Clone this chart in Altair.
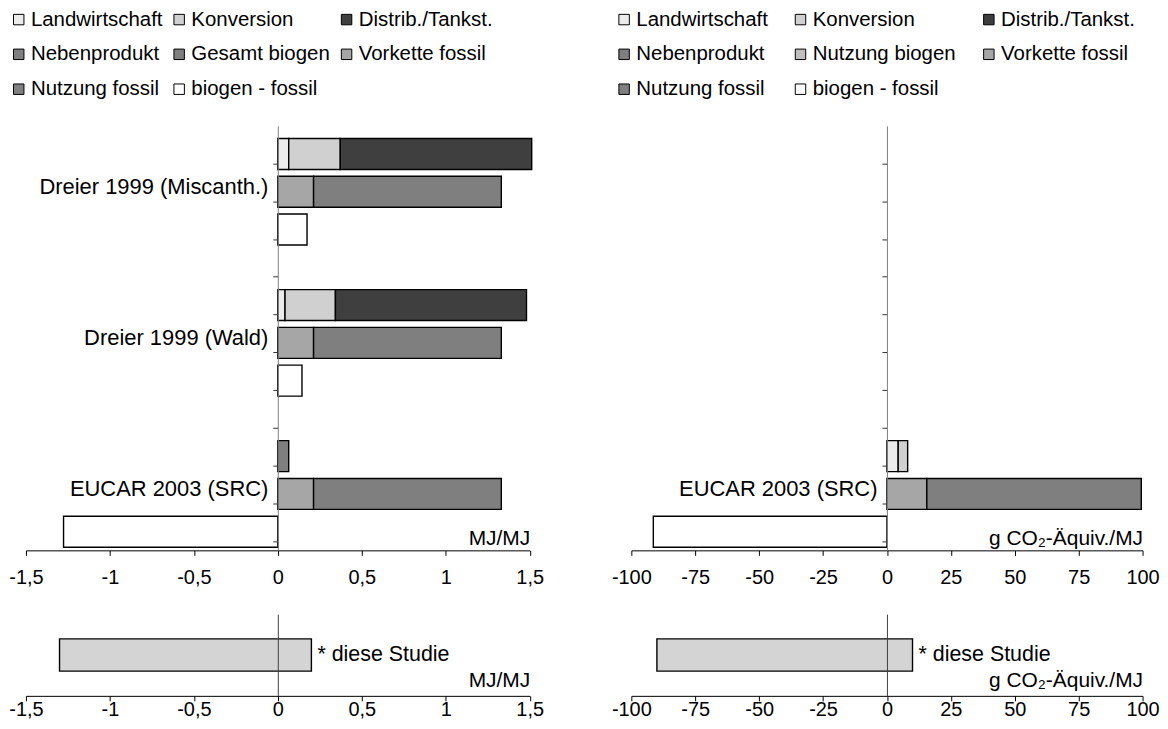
import altair as alt
import pandas as pd

# ---------------- data ----------------
studies = ["Dreier 1999 (Miscanth.)", "Dreier 1999 (Wald)", "EUCAR 2003 (SRC)"]

components_mj = ["Landwirtschaft", "Konversion", "Distrib./Tankst.", "Nebenprodukt",
                 "Gesamt biogen", "Vorkette fossil", "Nutzung fossil", "biogen - fossil"]
colors_mj = ["#ececec", "#d0d0d0", "#3f3f3f", "#7f7f7f",
             "#7f7f7f", "#a6a6a6", "#7f7f7f", "#ffffff"]

components_g = ["Landwirtschaft", "Konversion", "Distrib./Tankst.", "Nebenprodukt",
                "Nutzung biogen", "Vorkette fossil", "Nutzung fossil", "biogen - fossil"]
colors_g = ["#ececec", "#d0d0d0", "#3f3f3f", "#7f7f7f",
            "#bfbfbf", "#a6a6a6", "#7f7f7f", "#ffffff"]

# which bar (row slot) of a study each component belongs to
slot_of = {"Landwirtschaft": "A", "Konversion": "A", "Distrib./Tankst.": "A",
           "Nebenprodukt": "A", "Gesamt biogen": "A", "Nutzung biogen": "A",
           "Vorkette fossil": "B", "Nutzung fossil": "B", "biogen - fossil": "C"}

# MJ/MJ (one value per study)
mj_landwirtschaft = [0.065, 0.043, None]
mj_konversion = [0.307, 0.300, None]
mj_distrib = [1.140, 1.138, None]
mj_gesamt_biogen = [None, None, 0.065]
mj_vorkette_fossil = [0.213, 0.213, 0.213]
mj_nutzung_fossil = [1.118, 1.118, 1.118]
mj_biogen_minus_fossil = [0.174, 0.144, -1.276]

# g CO2-Äquiv./MJ (one value per study)
g_landwirtschaft = [None, None, 4.4]
g_konversion = [None, None, 3.7]
g_vorkette_fossil = [None, None, 15.6]
g_nutzung_fossil = [None, None, 83.9]
g_biogen_minus_fossil = [None, None, -91.4]

# "diese Studie" ranges (start, end)
diese_studie_mj = [-1.30, 0.20]
diese_studie_g = [-90.0, 10.0]

ticks_mj = [-1.5, -1, -0.5, 0, 0.5, 1, 1.5]
ticks_g = [-100, -75, -50, -25, 0, 25, 50, 75, 100]

FONT = "Liberation Sans"

# ---------------- tables ----------------
row_domain = []
for i, s in enumerate(studies):
    row_domain += [f"{s}|A", f"{s}|B", f"{s}|C"]
    if i < len(studies) - 1:
        row_domain.append(f"gap{i}|")


def build(series, comps):
    recs = []
    for comp, vals in series:
        for s, v in zip(studies, vals):
            if v is None:
                continue
            recs.append({"row": f"{s}|{slot_of[comp]}", "component": comp,
                         "value": v, "order": comps.index(comp)})
    return pd.DataFrame(recs)


df_mj = build([("Landwirtschaft", mj_landwirtschaft), ("Konversion", mj_konversion),
               ("Distrib./Tankst.", mj_distrib), ("Gesamt biogen", mj_gesamt_biogen),
               ("Vorkette fossil", mj_vorkette_fossil), ("Nutzung fossil", mj_nutzung_fossil),
               ("biogen - fossil", mj_biogen_minus_fossil)], components_mj)
df_g = build([("Landwirtschaft", g_landwirtschaft), ("Konversion", g_konversion),
              ("Vorkette fossil", g_vorkette_fossil), ("Nutzung fossil", g_nutzung_fossil),
              ("biogen - fossil", g_biogen_minus_fossil)], components_g)

labelled_mj = [s for s, v in zip(studies, mj_vorkette_fossil) if v is not None]
labelled_g = [s for s, v in zip(studies, g_vorkette_fossil) if v is not None]


def x_axis(unit, ticks, width, title_y, label_pad):
    return alt.Axis(values=ticks, labelExpr="replace(toString(datum.value), '.', ',')",
                    title=unit, titleX=width, titleY=title_y, titleAlign="right",
                    titleBaseline="alphabetic", titleFontSize=21, titleFontWeight="normal",
                    titleColor="black", titleFont=FONT,
                    domainColor="black", domainWidth=1, tickColor="black", tickSize=5,
                    tickWidth=1, labelFontSize=20, labelPadding=label_pad, labelColor="black",
                    labelFont=FONT, grid=False, labelFlush=False, labelOverlap=False)


def main_panel(df, comps, cols, xdom, ticks, unit, width, colpad, labelled):
    zero_off = -width * (0 - xdom[0]) / (xdom[1] - xdom[0])
    lab = "[" + ",".join("'" + s + "'" for s in labelled) + "]"
    label_expr = (f"split(datum.value, '|')[1] == 'B' && indexof({lab}, split(datum.value, '|')[0]) >= 0"
                  f" ? split(datum.value, '|')[0] : ''")
    return alt.Chart(df).mark_bar(stroke="black", strokeWidth=1.4).encode(
        x=alt.X("value:Q", stack="zero",
                scale=alt.Scale(domain=xdom, nice=False, zero=False),
                axis=x_axis(unit, ticks, width, -6, 12)),
        y=alt.Y("row:N", sort=row_domain,
                scale=alt.Scale(domain=row_domain, paddingInner=0.18, paddingOuter=0.21,
                                align=0.8, round=False),
                axis=alt.Axis(orient="left", offset=zero_off, title=None,
                              domainColor="#7f7f7f", domainWidth=1,
                              tickColor="#333333", tickSize=5, tickWidth=1,
                              bandPosition=0.5, tickOffset=9.5, labelOffset=-14.5,
                              labelFontSize=22, labelPadding=5, labelLimit=0,
                              labelColor="black", labelFont=FONT,
                              labelExpr=label_expr, labelOverlap=False, zindex=1)),
        color=alt.Color("component:N", scale=alt.Scale(domain=comps, range=cols),
                        legend=alt.Legend(orient="none", legendX=-17.5, legendY=-117,
                                          columns=3, direction="horizontal", title=None,
                                          symbolType="square", symbolSize=110,
                                          symbolStrokeColor="black", symbolStrokeWidth=1,
                                          labelFontSize=20.5, labelFont=FONT, labelColor="black",
                                          labelOffset=2, labelLimit=400,
                                          rowPadding=14, columnPadding=colpad, padding=0)),
        order=alt.Order("order:Q"),
    ).properties(width=width, height=426)


def small_panel(rng, xdom, ticks, unit, width):
    zero_off = -width * (0 - xdom[0]) / (xdom[1] - xdom[0])
    sdf = pd.DataFrame({"row": ["diese Studie"], "start": [rng[0]], "end": [rng[1]],
                        "label": ["* diese Studie"]})
    xs = alt.Scale(domain=xdom, nice=False, zero=False)
    ys = alt.Scale(paddingInner=0, paddingOuter=0.77, round=False)
    xa = x_axis(unit, ticks, width, -9, -1)
    ya = alt.Axis(orient="left", offset=zero_off, title=None, labels=False, ticks=False,
                  domainColor="#404040", domainWidth=1, zindex=1)
    bar = alt.Chart(sdf).mark_bar(stroke="black", strokeWidth=1.4, fill="#d4d4d4").encode(
        x=alt.X("start:Q", scale=xs, axis=xa), x2="end:Q",
        y=alt.Y("row:N", scale=ys, axis=ya))
    txt = alt.Chart(sdf).mark_text(align="left", baseline="middle", dx=6, fontSize=21.5,
                                   font=FONT, color="black").encode(
        x=alt.X("end:Q", scale=xs, axis=xa),
        y=alt.Y("row:N", scale=ys, axis=ya), text="label:N")
    return alt.layer(bar, txt).properties(width=width, height=82)


W_L, W_R = 505.5, 513
mainL = main_panel(df_mj, components_mj, colors_mj, [-1.5, 1.5], ticks_mj, "MJ/MJ", W_L, 6, labelled_mj)
mainR = main_panel(df_g, components_g, colors_g, [-100, 100], ticks_g, "g CO₂-Äquiv./MJ", W_R, 22, labelled_g)
smallL = small_panel(diese_studie_mj, [-1.5, 1.5], ticks_mj, "MJ/MJ", W_L)
smallR = small_panel(diese_studie_g, [-100, 100], ticks_g, "g CO₂-Äquiv./MJ", W_R)

chart = alt.concat(mainL, mainR, smallL, smallR, columns=2,
                   spacing={"row": 64, "column": 101.5}, bounds="flush", align="each"
                   ).resolve_scale(x="independent", y="independent", color="independent"
                   ).properties(padding=0
                   ).configure(font=FONT, background="white"
                   ).configure_view(strokeWidth=0)

chart.save("out.html", embed_options={"renderer": "svg", "actions": False})
